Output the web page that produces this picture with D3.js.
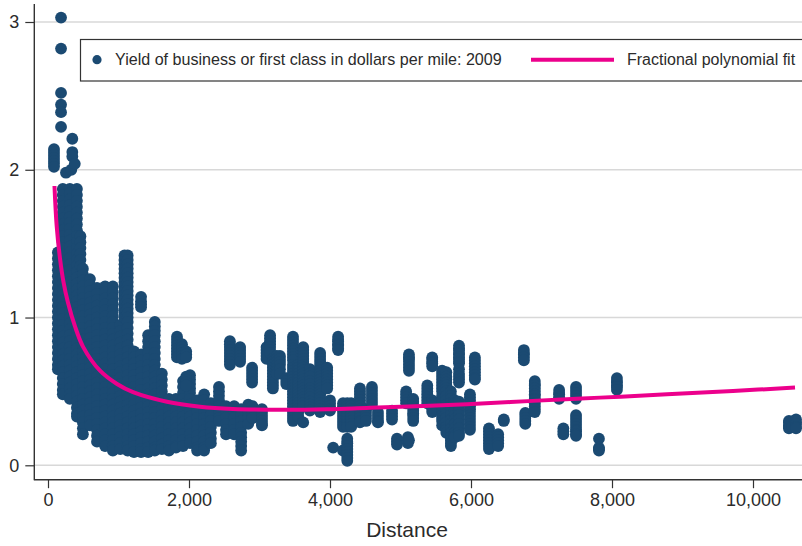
<!DOCTYPE html>
<html><head><meta charset="utf-8">
<script src="https://cdn.jsdelivr.net/npm/d3@7"></script>
<style>html,body{margin:0;padding:0;background:#fff}svg{display:block}text{font-family:"Liberation Sans",Arial,sans-serif;fill:#2b2b2b}</style>
</head><body><svg id="c" width="802" height="546"></svg>
<script>
const legendLabels = ["Yield of business or first class in dollars per mile: 2009", "Fractional polynomial fit"];
const axisTitle = "Distance";
const xTicks = [0, 2000, 4000, 6000, 8000, 10000];
const yTicks = [0, 1, 2, 3];

// Short-haul mass: distance of each column, then the yields read at that distance
const massDistance = [140,210,310,410,460,495,595,695,810,920,1025,1085,1130,1220,1320,1420,1515,1615,1715,1815,1915,2015,2115,2215,2310,2425,2525,2640,2740,2840,2900];
const massYield = [
[1.44,1.40,1.36,1.32,1.28,1.24,1.20,1.16,1.12,1.08,1.04,1.00,.96,.92,.88,.84,.80,.76,.72,.68,.65],
[1.87,1.83,1.79,1.75,1.71,1.67,1.63,1.59,1.55,1.51,1.47,1.43,1.39,1.35,1.31,1.27,1.23,1.19,1.15,1.11,1.07,1.03,.99,.95,.91,.87,.83,.79,.75,.71,.67,.63,.59,.55,.51,.48],
[1.87,1.84,1.80,1.76,1.72,1.68,1.64,1.60,1.56,1.52,1.48,1.44,1.40,1.36,1.32,1.28,1.24,1.20,1.16,1.12,1.08,1.04,1.00,.96,.92,.88,.84,.80,.76,.72,.68,.64,.60,.56,.52,.48,.45],
[1.87,1.83,1.79,1.75,1.71,1.67,1.63,1.59,1.55,1.51,1.47,1.43,1.39,1.35,1.31,1.27,1.23,1.19,1.15,1.11,1.07,1.03,.99,.95,.91,.87,.83,.79,.75,.71,.67,.63,.59,.55,.51,.47,.43,.39,.35,.33],
[1.55,1.51,1.47,1.43,1.39,1.35],
[1.33,1.29,1.25,1.21,1.17,1.13,1.09,1.05,1.01,.97,.93,.89,.85,.81,.77,.73,.69,.65,.61,.57,.53,.49,.45,.41,.37,.33,.29,.25,.21],
[1.26,1.22,1.18,1.14,1.10,1.06,1.02,.98,.94,.90,.86,.82,.78,.74,.70,.66,.62,.58,.54,.50,.46,.42,.38,.34,.30,.27],
[1.20,1.16,1.12,1.08,1.04,1.00,.96,.92,.88,.84,.80,.76,.72,.68,.64,.60,.56,.52,.48,.44,.40,.36,.32,.28,.24,.20,.16],
[1.21,1.17,1.13,1.09,1.05,1.01,.97,.93,.89,.85,.81,.77,.73,.69,.65,.61,.57,.53,.49,.45,.41,.37,.33,.29,.25,.21,.17,.13],
[1.21,1.17,1.13,1.09,1.05,1.01,.97,.93,.89,.85,.81,.77,.73,.69,.65,.61,.57,.53,.49,.45,.41,.37,.33,.29,.25,.21,.17,.13,.10],
[.95,.91,.87,.83,.79,.75,.71,.67,.63,.59,.55,.51,.47,.43,.39,.35,.31,.27,.23,.19,.15,.11],
[1.42,1.39,1.36,1.33,1.30,1.27,1.24,1.21,1.18,1.15,1.12,1.09,1.06,1.03,1.00],
[1.42,1.39,1.36,1.33,1.30,1.27,1.24,1.21,1.18,1.15,1.12,1.09,1.06,1.03,1.00,.97,.93,.89,.85,.81,.77,.73,.69,.65,.61,.57,.53,.49,.45,.41,.37,.33,.29,.25,.21,.17,.13,.10],
[.77,.73,.69,.65,.61,.57,.53,.49,.45,.41,.37,.33,.29,.25,.21,.17,.13,.09],
[1.14,1.11,1.09,1.07,.75,.71,.67,.63,.59,.55,.51,.47,.43,.39,.35,.31,.27,.23,.19,.15,.11,.09],
[.88,.84,.80,.76,.72,.68,.64,.60,.56,.52,.48,.44,.40,.36,.32,.28,.24,.20,.16,.12,.09],
[.97,.94,.91,.88,.84,.80,.76,.72,.68,.64,.60,.56,.52,.48,.44,.40,.36,.32,.28,.24,.20,.16,.12,.10],
[.62,.58,.54,.50,.46,.42,.38,.34,.30,.26,.22,.18,.14,.11],
[.45,.41,.37,.33,.29,.25,.21,.17,.13,.10],
[.45,.41,.37,.33,.29,.25,.21,.17,.13,.12],
[.57,.53,.49,.45,.41,.37,.33,.29,.25,.21,.17,.13],
[.61,.58,.55,.52,.49,.45,.41,.37,.33,.29,.25,.21,.17,.15],
[.44,.40,.36,.32,.28,.24,.20,.16,.12,.10],
[.48,.44,.40,.36,.32,.28,.24,.20,.16,.12,.10],
[.42,.38,.34,.30,.26,.22,.18,.15],
[.53,.50,.47,.44,.40,.36,.32,.30],
[.40,.36,.32,.28,.24,.21],
[.40,.36,.32,.28,.24,.21],
[.38,.34,.30,.26,.22,.19,.16,.13,.10],
[.41,.38,.35,.32,.28],
[.40,.37,.34,.32]
];

// Peak of very short routes
const peakDistance = [85,185,255,330,345,380];
const peakYield = [
[2.14,2.12,2.10,2.08,2.06,2.04,2.02],
[3.03,2.82,2.52,2.44,2.39,2.29],
[1.98],
[2.00],
[2.21,2.12,2.09],
[2.04]
];

// Separate long-haul route stacks
const longDistance = [1830,1900,1960,2580,2725,2895,3035,3100,3150,3190,3245,3290,3380,3475,3550,3620,3715,3860,3960,4000,4045,4115,4185,4245,4300,4425,4510,4595,4680,4880,4950,5080,5105,5120,5180,5380,5450,5590,5650,5715,5770,5830,5985,6055,6255,6385,6465,6750,6770,6905,7250,7310,7490,7815,8070,10510,10560,10610];
const longYield = [
[.87,.85,.83,.81,.79,.77,.75,.73],
[.82,.80,.78,.76,.74,.72],
[.77,.75,.73,.60,.58,.56,.54],
[.84,.82,.80,.78,.76,.74,.72,.70,.68],
[.80,.78,.76,.74,.72,.70],
[.66,.64,.62,.60,.58,.56],
[.38,.36,.34,.32,.30,.28,.27],
[.80,.78,.76,.74,.72],
[.88,.86,.84,.82,.80,.78,.76],
[.72,.70,.68,.66,.64,.62,.60,.58,.56,.54,.52],
[.74,.72,.70,.68,.66,.64,.62],
[.74,.72,.70,.68,.65,.62],
[.59,.57,.55],
[.87,.85,.83,.81,.79,.77,.75,.73,.71,.68,.66,.64,.62,.60,.58,.56,.54,.52,.50,.48,.46,.44,.42,.40,.38,.36,.34,.32,.30],
[.68,.66,.64,.62,.60,.58,.56,.54,.52,.50,.48,.46,.44,.42,.40,.38,.36,.33],
[.80,.78,.76,.74,.72,.70,.68,.66,.64,.62,.60,.58,.56,.54,.52,.50,.48,.46,.44,.42,.40,.29],
[.65,.62,.60,.57,.55,.52,.50,.48,.46,.43,.41,.39,.37],
[.76,.74,.72,.70,.68,.66,.64,.62,.60,.58,.56,.54,.52,.50,.48,.46,.44,.42,.40,.38,.36],
[.66,.64,.62,.60,.58,.56,.54,.52],
[.44,.42,.40,.38,.37],
[.12],
[.87,.85,.84,.82,.81,.79,.78],
[.42,.40,.38,.36,.34,.32,.30,.28,.26,.10],
[.42,.40,.38,.36,.34,.32,.30,.28,.26,.18,.16,.15,.13,.11,.09,.07,.05,.03],
[.42,.40,.38,.36,.34,.32,.30,.28,.26],
[.52,.50,.48,.46,.44,.42,.40,.38,.36,.34,.32,.30,.29],
[.38,.36,.34,.32,.30],
[.53,.51,.49,.47,.45,.43,.41],
[.36,.34,.32,.30,.29],
[.37,.35,.33,.31],
[.18,.16,.14],
[.50,.48,.46,.44,.42],
[.19,.17,.15],
[.75,.73,.72,.70,.68,.66,.64,.17],
[.45,.43,.41,.39,.37,.35,.34,.32,.30],
[.54,.52,.50,.48,.46,.44,.42],
[.73,.72,.70,.69,.67,.44,.42,.40,.38,.36],
[.64,.62,.60,.58,.56,.54,.52,.50,.47,.44,.42,.40,.38,.36,.34,.32,.30,.27],
[.63,.60,.58,.56,.54,.52,.50,.47,.44,.41,.38,.35,.32,.29,.26,.24,.22],
[.50,.47,.45,.42,.40,.37,.34,.31,.28,.25,.22,.19,.17,.15,.13],
[.44,.42,.40,.37,.34,.31,.28,.25,.22,.20,.19],
[.81,.79,.78,.76,.75,.73,.72,.70,.69,.65,.62,.60,.58,.56,.43,.40,.37,.34,.31,.28,.25,.22,.20],
[.48,.46,.44,.42,.40,.38,.36,.34,.32,.30,.28,.26,.24],
[.73,.71,.69,.67,.65,.63,.61,.59,.58],
[.25,.23,.21,.19,.17,.15,.13,.11],
[.21,.19,.17,.15,.13],
[.31,.30],
[.78,.76,.75,.73,.71],
[.355,.34,.32,.30,.28],
[.57,.55,.54,.52,.50,.48,.47,.45,.44,.42,.40,.38,.36],
[.51,.49,.48,.46,.45],
[.25,.23,.21],
[.53,.51,.49,.47,.45,.34,.32,.30,.28,.26,.24,.23,.21,.20],
[.18,.12,.11,.10],
[.59,.57,.56,.54,.53,.51],
[.30,.29,.27,.26,.25],
[.29,.27,.26],
[.31,.29,.28,.26,.25]
];

const fitDistance = [92,123,170,220,284,383,500,738,979,1206,1688,2156,2624,3106,3957,4567,5943,6879,7830,8780,9716,10596];
const fitYield = [1.89,1.62,1.40,1.24,1.10,.94,.80,.64,.55,.495,.43,.397,.381,.376,.379,.39,.413,.436,.458,.48,.503,.526];

const navy = "#1b4a72", pink = "#ec008c", grid = "#d8d8d8", ink = "#333";
const x = d3.scaleLinear().domain([0, 10000]).range([48, 753]);
const y = d3.scaleLinear().domain([0, 3]).range([465.3, 22]);
const axisX = 34.3, axisY = 479.7, W = 802;
const svg = d3.select("#c");

svg.append("g").selectAll("line").data(yTicks).join("line")
  .attr("x1", axisX).attr("x2", W).attr("y1", d => y(d)).attr("y2", d => y(d))
  .attr("stroke", grid).attr("stroke-width", 1.4);

const flatten = (ds, ys) => ds.flatMap((d, i) => ys[i].map(v => [d, v]));
const points = [...flatten(massDistance, massYield), ...flatten(peakDistance, peakYield), ...flatten(longDistance, longYield)];
svg.append("g").selectAll("circle").data(points).join("circle")
  .attr("cx", d => x(d[0])).attr("cy", d => y(d[1])).attr("r", 5.9).attr("fill", navy);

svg.append("path").datum(fitDistance.map((d, i) => [d, fitYield[i]]))
  .attr("fill", "none").attr("stroke", pink).attr("stroke-width", 4)
  .attr("d", d3.line().x(d => x(d[0])).y(d => y(d[1])).curve(d3.curveCatmullRom));

const gy = svg.append("g").attr("transform", `translate(${axisX},0)`)
  .call(d3.axisLeft(y).tickValues(yTicks).tickSize(9).tickPadding(6).tickFormat(d3.format("d")));
const gx = svg.append("g").attr("transform", `translate(0,${axisY})`)
  .call(d3.axisBottom(x).tickValues(xTicks).tickSize(8.5).tickPadding(5).tickFormat(d3.format(",")));
[gx, gy].forEach(g => {
  g.select(".domain").remove();
  g.selectAll("line").attr("stroke", ink).attr("stroke-width", 1.2);
  g.selectAll("text").style("font-size", "18px").attr("fill", "#2b2b2b");
});
svg.append("line").attr("x1", axisX).attr("x2", axisX).attr("y1", 4).attr("y2", axisY + .6).attr("stroke", ink).attr("stroke-width", 1.4);
svg.append("line").attr("x1", axisX).attr("x2", W).attr("y1", axisY).attr("y2", axisY).attr("stroke", ink).attr("stroke-width", 1.4);

svg.append("text").attr("x", 407).attr("y", 537).attr("text-anchor", "middle").style("font-size", "21px").text(axisTitle);

const lg = svg.append("g");
lg.append("rect").attr("x", 80.5).attr("y", 39.5).attr("width", 740).attr("height", 41.5)
  .attr("fill", "#fff").attr("stroke", ink).attr("stroke-width", 1.2);
lg.append("circle").attr("cx", 97).attr("cy", 59.7).attr("r", 4.6).attr("fill", navy);
lg.append("text").attr("x", 115).attr("y", 65.3).style("font-size", "16.1px").text(legendLabels[0]);
lg.append("line").attr("x1", 531).attr("x2", 614).attr("y1", 59.7).attr("y2", 59.7).attr("stroke", pink).attr("stroke-width", 4);
lg.append("text").attr("x", 627).attr("y", 65.3).style("font-size", "16px").text(legendLabels[1]);
</script></body></html>
